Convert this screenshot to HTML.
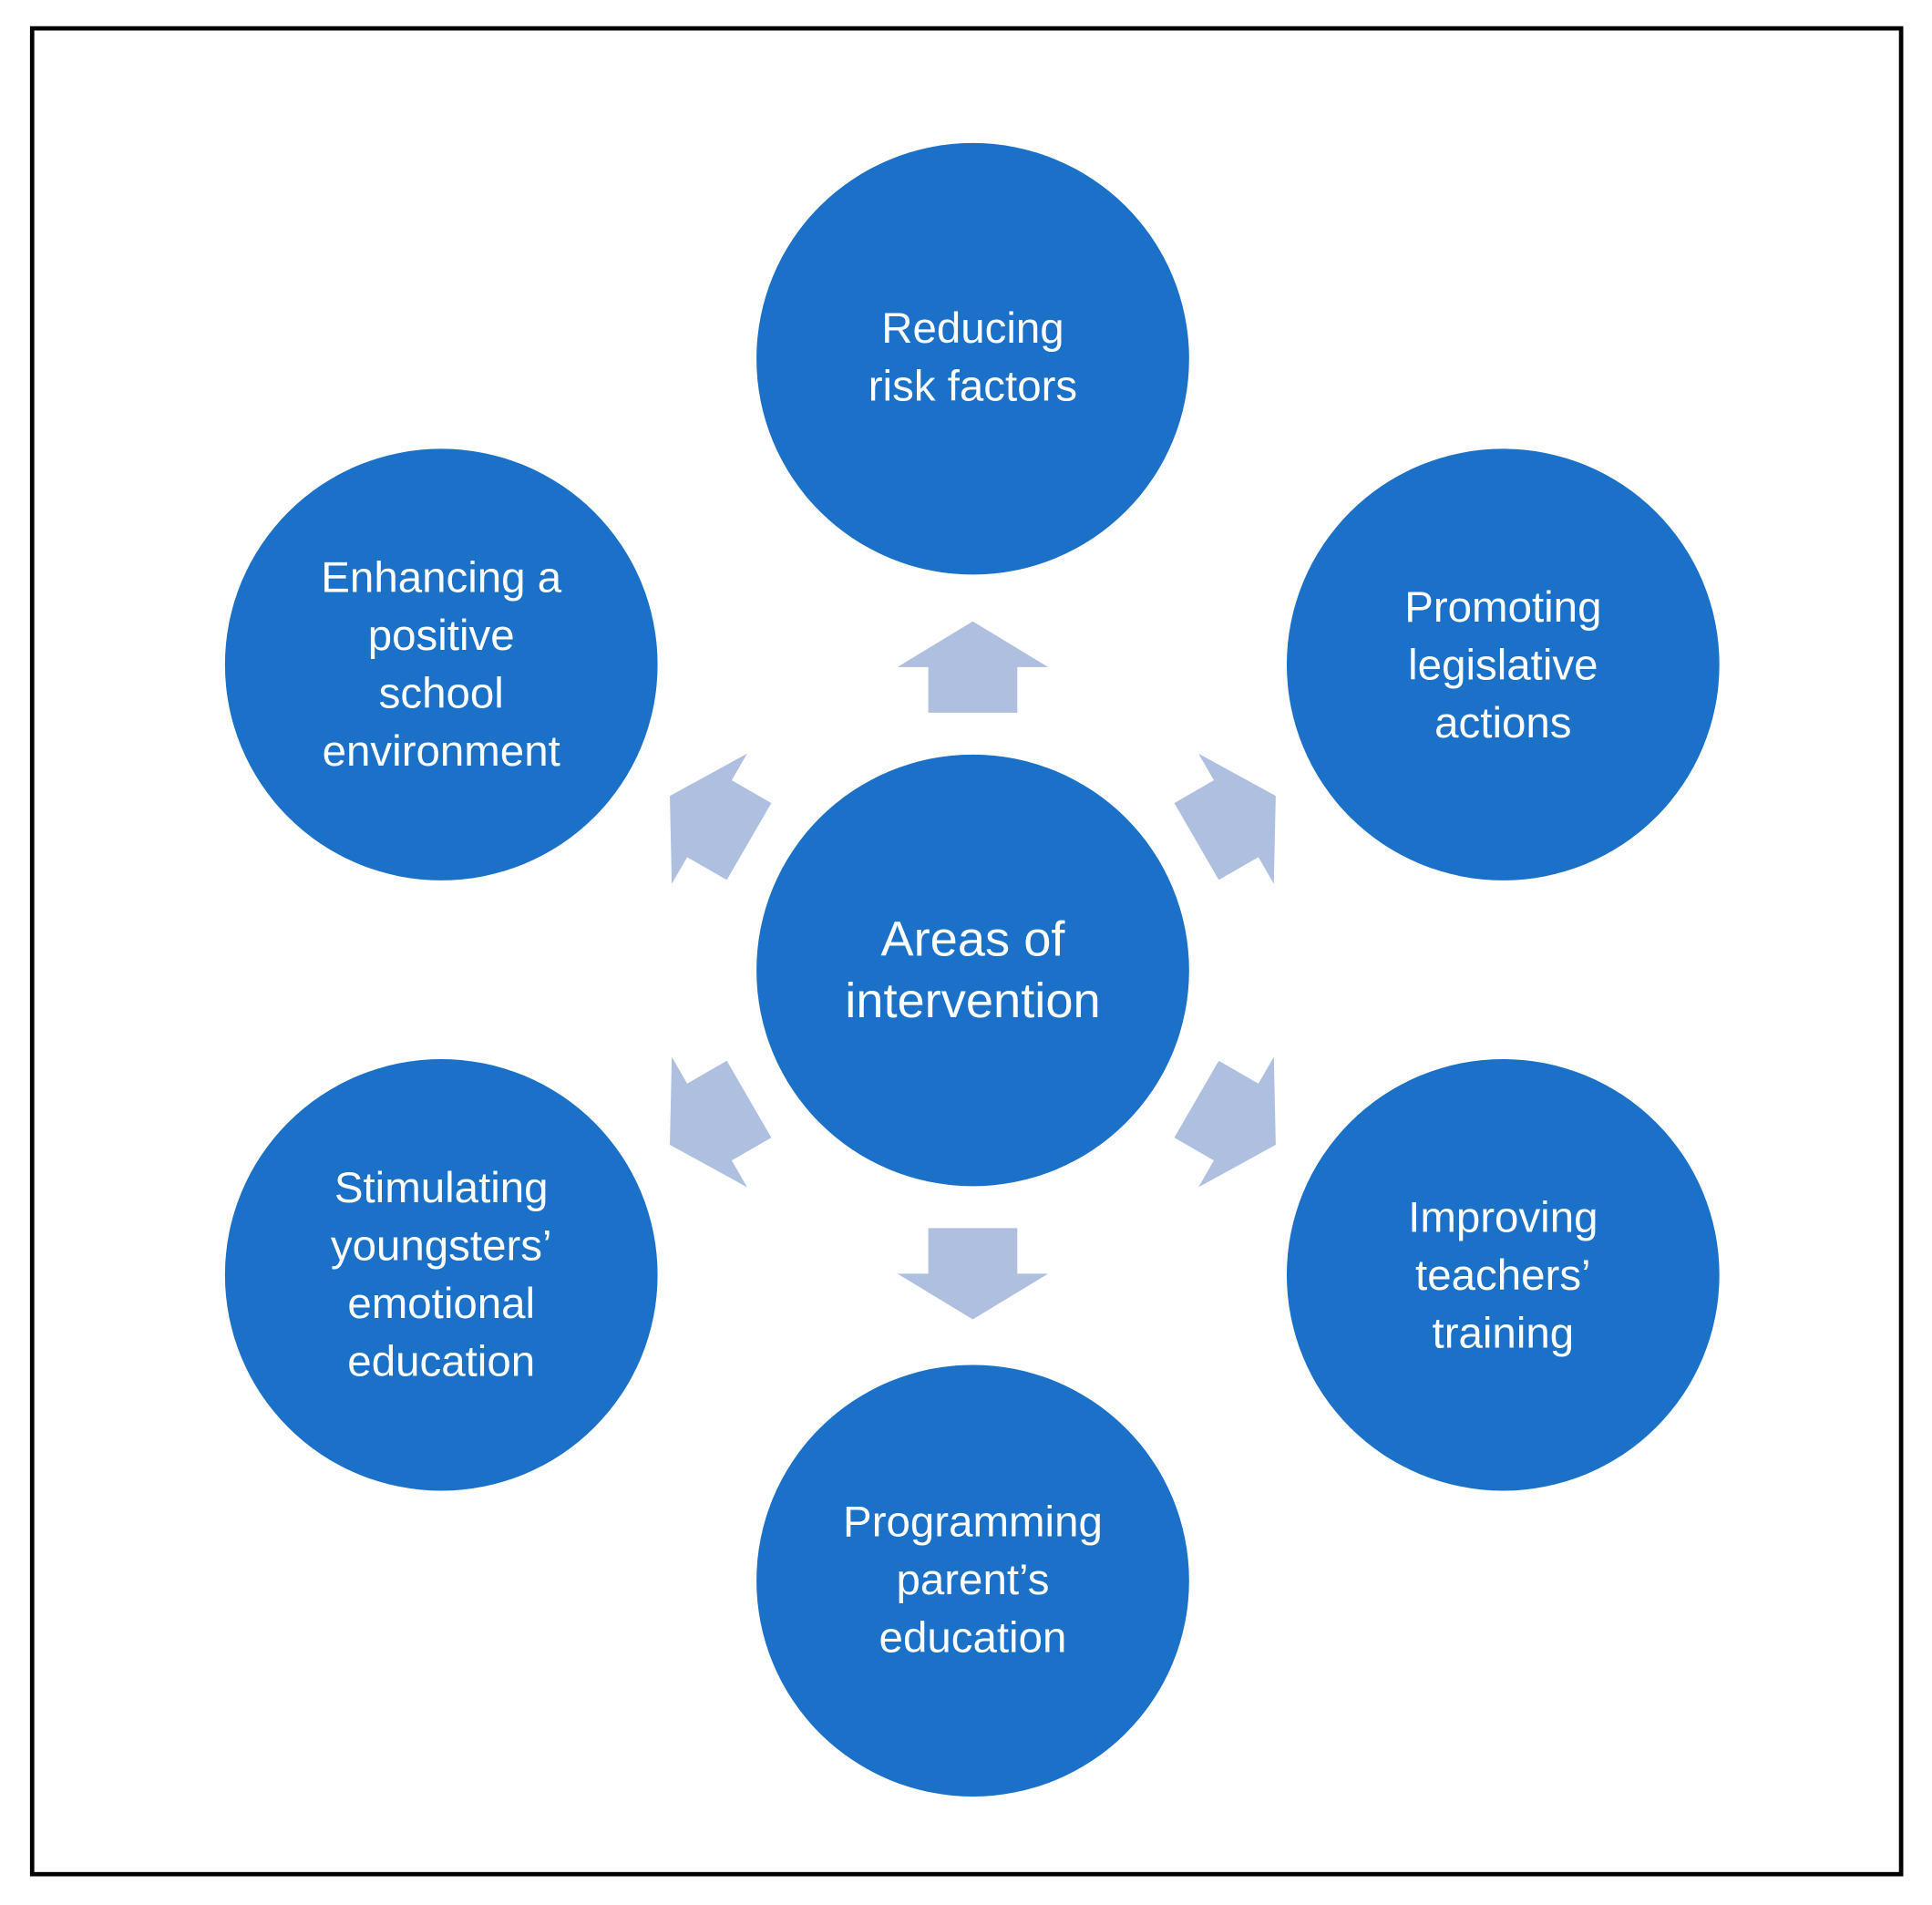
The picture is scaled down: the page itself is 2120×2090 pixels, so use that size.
<!DOCTYPE html>
<html><head><meta charset="utf-8"><style>html,body{margin:0;padding:0;background:#fff}svg{display:block}</style></head><body>
<svg width="2120" height="2090" viewBox="0 0 1563 1545" preserveAspectRatio="none" xmlns="http://www.w3.org/2000/svg">
<rect x="0" y="0" width="1563" height="1545" fill="#fff"/>
<rect x="26" y="23" width="1512" height="1497" fill="none" stroke="#000" stroke-width="3.5"/>
<g fill="#AEBFE0">
<polygon id="a" points="787,504 848,541 823,541 823,578 751,578 751,541 726,541"/>
<polygon points="787,504 848,541 823,541 823,578 751,578 751,541 726,541" transform="rotate(60 787 787)"/>
<polygon points="787,504 848,541 823,541 823,578 751,578 751,541 726,541" transform="rotate(120 787 787)"/>
<polygon points="787,504 848,541 823,541 823,578 751,578 751,541 726,541" transform="rotate(180 787 787)"/>
<polygon points="787,504 848,541 823,541 823,578 751,578 751,541 726,541" transform="rotate(240 787 787)"/>
<polygon points="787,504 848,541 823,541 823,578 751,578 751,541 726,541" transform="rotate(300 787 787)"/>
</g>
<g fill="#1B71C7">
<circle cx="787" cy="291" r="175"/>
<circle cx="787" cy="787" r="175"/>
<circle cx="357" cy="539" r="175"/>
<circle cx="1216" cy="539" r="175"/>
<circle cx="357" cy="1034" r="175"/>
<circle cx="1216" cy="1034" r="175"/>
<circle cx="787" cy="1282" r="175"/>
</g>
<g fill="#fff" font-family="'Liberation Sans', sans-serif" font-size="35" text-anchor="middle">
<text x="787" y="278">Reducing</text><text x="787" y="325">risk factors</text>
<text x="357" y="480">Enhancing a</text><text x="357" y="527">positive</text><text x="357" y="574">school</text><text x="357" y="621">environment</text>
<text x="1216" y="504">Promoting</text><text x="1216" y="551">legislative</text><text x="1216" y="598">actions</text>
<text x="787" y="775" font-size="40">Areas of</text><text x="787" y="825" font-size="40">intervention</text>
<text x="357" y="975">Stimulating</text><text x="357" y="1022">youngsters’</text><text x="357" y="1069">emotional</text><text x="357" y="1116">education</text>
<text x="1216" y="999">Improving</text><text x="1216" y="1046">teachers’</text><text x="1216" y="1093">training</text>
<text x="787" y="1246">Programming</text><text x="787" y="1293">parent’s</text><text x="787" y="1340">education</text>
</g>
</svg>
</body></html>
